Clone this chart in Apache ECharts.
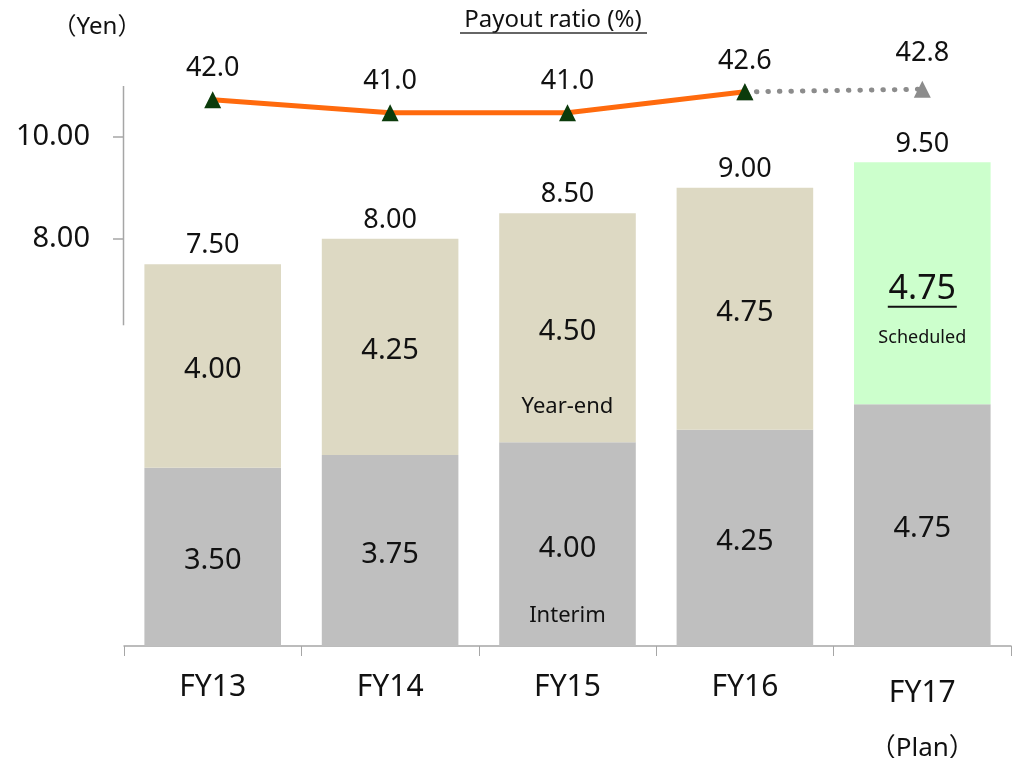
<!DOCTYPE html>
<html>
<head>
<meta charset="utf-8">
<script src="https://cdn.jsdelivr.net/npm/echarts@6/dist/echarts.min.js"></script>
<style>
html,body{margin:0;padding:0;background:#fff;}
#chart{width:1013px;height:758px;}
</style>
</head>
<body>
<div id="chart"></div>
<script>
const categories = ['FY13', 'FY14', 'FY15', 'FY16', 'FY17\n（Plan）'];
const interim = [3.50, 3.75, 4.00, 4.25, 4.75];
const yearEnd = [4.00, 4.25, 4.50, 4.75, 4.75];
const totals = [7.50, 8.00, 8.50, 9.00, 9.50];
const payoutActual = [42.0, 41.0, 41.0, 42.6, null];
const payoutPlan = [null, null, null, 42.6, 42.8];
const yTickValues = [8, 10];
const yAxisTitle = '（Yen）';
const payoutTitle = 'Payout ratio (%)';
const noteInterim = 'Interim';
const noteYearEnd = 'Year-end';
const noteScheduled = 'Scheduled';

const FONT = '"Noto Sans", "Noto Sans CJK JP", sans-serif';
const GRID = {left: 124, right: 2, top: 86, bottom: 112};

const chart = echarts.init(document.getElementById('chart'), null, {renderer: 'canvas'});

const interimData = interim.map((v, i) => {
  const item = {value: v};
  if (i === 2) {
    item.label = {
      formatter: '{v|' + v.toFixed(2) + '}\n{n|' + noteInterim + '}',
      offset: [0, 55]
    };
  }
  return item;
});

const yearEndData = yearEnd.map((v, i) => {
  const item = {value: v};
  if (i === 2) {
    item.label = {
      formatter: '{v|' + v.toFixed(2) + '}\n{m|' + noteYearEnd + '}',
      offset: [0, 62]
    };
  }
  if (i === categories.length - 1) {
    item.itemStyle = {color: '#CCFFCC'};
    item.label = {
      formatter: '{b|' + v.toFixed(2) + '}\n{u| }\n{s|' + noteScheduled + '}',
      offset: [0, 37]
    };
  }
  return item;
});

const richCommon = {
  v: {fontSize: 29, lineHeight: 34, fontFamily: FONT, color: '#111', align: 'center'},
  n: {fontSize: 22, lineHeight: 100, fontFamily: FONT, color: '#111', align: 'center'},
  m: {fontSize: 22, lineHeight: 116, fontFamily: FONT, color: '#111', align: 'center'},
  b: {fontSize: 34, lineHeight: 33, fontFamily: FONT, color: '#111', align: 'center'},
  u: {fontSize: 2, lineHeight: 2, height: 2, width: 69, backgroundColor: '#111', align: 'center'},
  s: {fontSize: 18, lineHeight: 60, fontFamily: FONT, color: '#111', align: 'center'}
};

const option = {
  animation: false,
  backgroundColor: '#fff',
  textStyle: {fontFamily: FONT},
  grid: Object.assign({outerBoundsMode: 'none', containLabel: false}, GRID),
  xAxis: {
    type: 'category',
    data: categories,
    axisLine: {show: true, lineStyle: {color: '#A6A6A6', width: 1.5}},
    axisTick: {show: true, interval: 0, length: 10, lineStyle: {color: '#A6A6A6'}},
    axisLabel: {
      interval: 0,
      margin: 26,
      color: '#111',
      fontSize: 30,
      fontFamily: FONT,
      formatter: function (val) {
        const parts = val.split('\n');
        if (parts.length > 1) return '{a|' + parts[0] + '}\n{p|' + parts[1] + '}';
        return '{c|' + val + '}';
      },
      rich: {
        c: {fontSize: 30, lineHeight: 30, fontFamily: FONT, color: '#111'},
        a: {fontSize: 30, lineHeight: 42, fontFamily: FONT, color: '#111'},
        p: {fontSize: 26, lineHeight: 70, fontFamily: FONT, color: '#111'}
      }
    },
    splitLine: {show: false}
  },
  yAxis: [
    {
      type: 'value',
      min: 0,
      max: 11,
      interval: 2,
      axisLine: {show: false},
      axisTick: {show: true, customValues: yTickValues, length: 11, lineStyle: {color: '#A6A6A6', width: 1.5}},
      axisLabel: {
        customValues: yTickValues,
        margin: 34,
        fontSize: 29,
        color: '#111',
        fontFamily: FONT,
        formatter: v => v.toFixed(2)
      },
      splitLine: {show: false}
    },
    {
      type: 'value',
      min: 0,
      max: 43.05,
      show: false,
      splitLine: {show: false}
    }
  ],
  series: [
    {
      name: 'Interim',
      type: 'bar',
      stack: 'div',
      barWidth: '77%',
      data: interimData,
      itemStyle: {color: '#BFBFBF'},
      label: {
        show: true,
        position: 'inside',
        offset: [0, 4],
        fontSize: 29,
        color: '#111',
        fontFamily: FONT,
        formatter: p => '{v|' + p.value.toFixed(2) + '}',
        rich: richCommon
      },
      z: 2
    },
    {
      name: 'Year-end',
      type: 'bar',
      stack: 'div',
      barWidth: '77%',
      data: yearEndData,
      itemStyle: {color: '#DDD9C3'},
      label: {
        show: true,
        position: 'inside',
        offset: [0, 4],
        fontSize: 29,
        color: '#111',
        fontFamily: FONT,
        formatter: p => '{v|' + p.value.toFixed(2) + '}',
        rich: richCommon
      },
      z: 2
    },
    {
      name: 'Total',
      type: 'bar',
      barWidth: '77%',
      barGap: '-100%',
      data: totals,
      itemStyle: {color: 'rgba(0,0,0,0)'},
      label: {
        show: true,
        position: 'top',
        distance: 5,
        fontSize: 27,
        color: '#111',
        fontFamily: FONT,
        formatter: p => p.value.toFixed(2)
      },
      z: 1,
      silent: true
    },
    {
      name: 'Payout plan',
      type: 'line',
      yAxisIndex: 1,
      data: payoutPlan,
      symbol: 'triangle',
      symbolSize: 17,
      showSymbol: true,
      itemStyle: {color: '#8C8C8C'},
      lineStyle: {color: '#8C8C8C', width: 5, type: [0.5, 11], cap: 'round'},
      label: {
        show: true,
        position: 'top',
        distance: 14,
        fontSize: 27,
        color: '#111',
        fontFamily: FONT,
        formatter: p => (p.dataIndex === payoutPlan.length - 1 && p.value != null) ? p.value.toFixed(1) : ''
      },
      z: 4
    },
    {
      name: 'Payout ratio',
      type: 'line',
      yAxisIndex: 1,
      data: payoutActual,
      symbol: 'triangle',
      symbolSize: 17,
      itemStyle: {color: '#0B3B0B'},
      lineStyle: {color: '#FF6A0D', width: 5},
      label: {
        show: true,
        position: 'top',
        distance: 9,
        fontSize: 27,
        color: '#111',
        fontFamily: FONT,
        formatter: p => p.value.toFixed(1)
      },
      z: 5
    }
  ]
};

chart.setOption(option);

const yTop = chart.convertToPixel({yAxisIndex: 0}, 11);
const yBot = chart.convertToPixel({yAxisIndex: 0}, 6.3);
const axisX = GRID.left - 0.5;

chart.setOption({
  graphic: [
    {
      type: 'line',
      shape: {x1: axisX, y1: yTop, x2: axisX, y2: yBot},
      style: {stroke: '#A6A6A6', lineWidth: 1.5},
      silent: true
    },
    {
      type: 'text',
      x: 97,
      y: 27,
      style: {text: yAxisTitle, font: '24px ' + FONT, fill: '#111', textAlign: 'center', textVerticalAlign: 'middle'},
      silent: true
    },
    {
      type: 'text',
      x: 553,
      y: 20,
      style: {text: payoutTitle, font: '24px ' + FONT, fill: '#111', textAlign: 'center', textVerticalAlign: 'middle'},
      silent: true
    },
    {
      type: 'line',
      shape: {x1: 460, y1: 33, x2: 647, y2: 33},
      style: {stroke: '#333', lineWidth: 1.5},
      silent: true
    }
  ]
});
</script>
</body>
</html>
